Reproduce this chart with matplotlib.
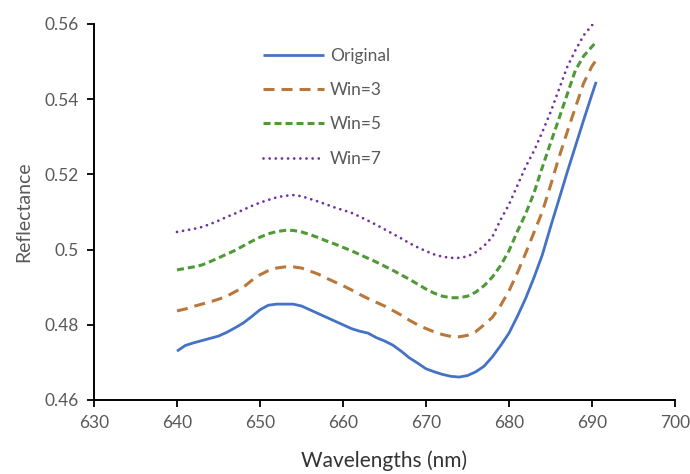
import matplotlib
matplotlib.use("Agg")
import matplotlib.pyplot as plt

wavelengths = list(range(640, 691)) + [690.5]

original = [0.4730, 0.4745, 0.4752, 0.4758, 0.4764, 0.4770, 0.4780, 0.4792, 0.4805, 0.4822,
            0.4840, 0.4852, 0.4855, 0.4855, 0.4855, 0.4850, 0.4840, 0.4830, 0.4820, 0.4810,
            0.4800, 0.4790, 0.4783, 0.4778, 0.4766, 0.4757, 0.4746, 0.4730, 0.4712, 0.4698,
            0.4683, 0.4675, 0.4668, 0.4663, 0.4661, 0.4665, 0.4675, 0.4690, 0.4715, 0.4745,
            0.4778, 0.4822, 0.4870, 0.4925, 0.4985, 0.5060, 0.5132, 0.5205, 0.5275, 0.5345,
            0.5413, 0.5446]

win3 = [0.4837, 0.4842, 0.4849, 0.4855, 0.4861, 0.4868, 0.4876, 0.4888, 0.4900, 0.4918,
        0.4933, 0.4944, 0.4951, 0.4954, 0.4954, 0.4951, 0.4943, 0.4935, 0.4924, 0.4914,
        0.4904, 0.4893, 0.4881, 0.4870, 0.4860, 0.4850, 0.4838, 0.4826, 0.4812, 0.4800,
        0.4790, 0.4781, 0.4774, 0.4769, 0.4768, 0.4772, 0.4782, 0.4800, 0.4820, 0.4852,
        0.4890, 0.4938, 0.4990, 0.5045, 0.5100, 0.5170, 0.5244, 0.5312, 0.5378, 0.5443,
        0.5488, 0.5504]

win5 = [0.4946, 0.4950, 0.4954, 0.4959, 0.4968, 0.4978, 0.4988, 0.4998, 0.5010, 0.5022,
        0.5033, 0.5042, 0.5048, 0.5051, 0.5051, 0.5047, 0.5040, 0.5032, 0.5023, 0.5015,
        0.5006, 0.4997, 0.4987, 0.4977, 0.4967, 0.4956, 0.4945, 0.4933, 0.4921, 0.4908,
        0.4895, 0.4884, 0.4876, 0.4872, 0.4872, 0.4876, 0.4887, 0.4904, 0.4927, 0.4958,
        0.4997, 0.5048, 0.5095, 0.5150, 0.5218, 0.5283, 0.5347, 0.5412, 0.5477, 0.5515,
        0.5540, 0.5552]

win7 = [0.5047, 0.5051, 0.5055, 0.5060, 0.5068, 0.5077, 0.5087, 0.5096, 0.5106, 0.5116,
        0.5125, 0.5132, 0.5139, 0.5143, 0.5145, 0.5142, 0.5135, 0.5128, 0.5120, 0.5112,
        0.5105, 0.5098, 0.5088, 0.5077, 0.5066, 0.5054, 0.5042, 0.5030, 0.5017, 0.5006,
        0.4996, 0.4987, 0.4981, 0.4978, 0.4978, 0.4982, 0.4993, 0.5010, 0.5034, 0.5080,
        0.5120, 0.5170, 0.5220, 0.5262, 0.5312, 0.5365, 0.5425, 0.5485, 0.5530, 0.5570,
        0.5597, 0.5605]

series_labels = ["Original", "Win=3", "Win=5", "Win=7"]
x_ticks = [630, 640, 650, 660, 670, 680, 690, 700]
y_ticks = [0.46, 0.48, 0.50, 0.52, 0.54, 0.56]
y_tick_labels = ["0.46", "0.48", "0.5", "0.52", "0.54", "0.56"]

plt.rcParams['font.family'] = ['Lato', 'DejaVu Sans']

fig = plt.figure(figsize=(6.9, 4.74), dpi=100)
ax = fig.add_axes([94/690, 1 - 400/474, (675-94)/690, (400-24)/474])

ax.plot(wavelengths, original, color='#4472C4', lw=2.0, label=series_labels[0],
        solid_capstyle='butt')
ax.plot(wavelengths, win3, color='#B8783A', lw=2.2, label=series_labels[1],
        linestyle=(0, (3.6, 2.3)), dash_capstyle='butt')
ax.plot(wavelengths, win5, color='#4F9A36', lw=2.2, label=series_labels[2],
        linestyle=(0, (2.3, 1.3)), dash_capstyle='butt')
ax.plot(wavelengths, win7, color='#7030A0', lw=2.0, label=series_labels[3],
        linestyle=(0, (0.01, 2.2)), dash_capstyle='round')

ax.set_xlim(630, 700)
ax.set_ylim(0.46, 0.56)
ax.set_xticks(x_ticks)
ax.set_yticks(y_ticks)
ax.set_yticklabels(y_tick_labels)

for s in ['top', 'right']:
    ax.spines[s].set_visible(False)
for s in ['left', 'bottom']:
    ax.spines[s].set_linewidth(1.4)
    ax.spines[s].set_color('black')

ax.tick_params(axis='both', direction='out', length=5, width=1.3, color='black',
               labelsize=12.5, labelcolor='#595959', pad=6)

ax.set_xlabel("Wavelengths (nm)", fontsize=15, color='#333333', labelpad=14)
ax.set_ylabel("Reflectance", fontsize=14, color='#595959', labelpad=9)

leg = ax.legend(loc='upper left', bbox_to_anchor=(263/690, 1 - 48/474),
                bbox_transform=fig.transFigure, frameon=False, fontsize=12.5,
                handlelength=3.5, handletextpad=0.35, labelspacing=1.05,
                borderpad=0, borderaxespad=0)
for t in leg.get_texts():
    t.set_color('#595959')

fig.savefig("out.png", dpi=100)
